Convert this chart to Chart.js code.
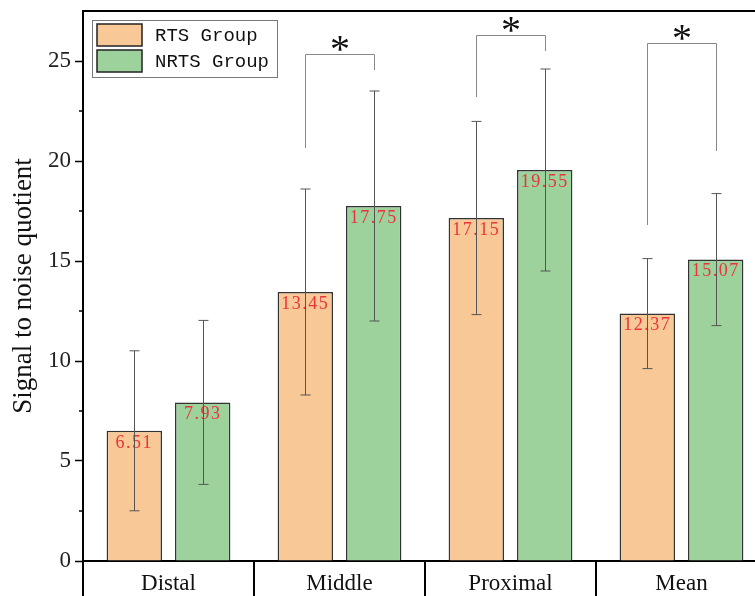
<!DOCTYPE html>
<html>
<head>
<meta charset="utf-8">
<script src="https://cdn.jsdelivr.net/npm/chart.js@4.4.0/dist/chart.umd.min.js"></script>
<style>
body { margin: 0; overflow: hidden; background: #fff; }
#wrap { width: 780px; height: 600px; }
</style>
</head>
<body>
<div id="wrap"><canvas id="myChart"></canvas></div>
<script>
const categories = ['Distal', 'Middle', 'Proximal', 'Mean'];
const rtsValues = [6.51, 13.45, 17.15, 12.37];
const nrtsValues = [7.93, 17.75, 19.55, 15.07];
const rtsSd = [4.0, 5.15, 4.83, 2.75];
const nrtsSd = [4.1, 5.75, 5.05, 3.3];

// significance brackets (category index, bracket top, left leg end, right leg end)
const sigCategories = [1, 2, 3];
const sigTop = [25.35, 26.3, 25.9];
const sigLeftEnd = [20.65, 23.2, 16.8];
const sigRightEnd = [24.55, 25.5, 20.5];

const serif = 'Liberation Serif';
const mono = 'Liberation Mono';

const extras = {
    id: 'extras',
    afterDatasetsDraw(chart) {
        const ctx = chart.ctx;
        const y = chart.scales.y;
        const area = chart.chartArea;
        const sds = [rtsSd, nrtsSd];
        const vals = [rtsValues, nrtsValues];
        ctx.save();

        // value labels
        ctx.fillStyle = '#e8343a';
        ctx.font = '18px "' + serif + '"';
        ctx.letterSpacing = '1.5px';
        ctx.textAlign = 'center';
        ctx.textBaseline = 'top';
        chart.data.datasets.forEach((ds, i) => {
            chart.getDatasetMeta(i).data.forEach((bar, j) => {
                ctx.fillText(vals[i][j].toFixed(2), bar.x, bar.y + 3);
            });
        });
        ctx.letterSpacing = '0px';

        // error bars
        ctx.strokeStyle = '#555';
        ctx.lineWidth = 1;
        chart.data.datasets.forEach((ds, i) => {
            chart.getDatasetMeta(i).data.forEach((bar, j) => {
                const x = Math.round(bar.x) + 0.5;
                const hi = y.getPixelForValue(vals[i][j] + sds[i][j]);
                const lo = y.getPixelForValue(vals[i][j] - sds[i][j]);
                ctx.beginPath();
                ctx.moveTo(x, hi); ctx.lineTo(x, lo);
                ctx.moveTo(x - 5, hi); ctx.lineTo(x + 5, hi);
                ctx.moveTo(x - 5, lo); ctx.lineTo(x + 5, lo);
                ctx.stroke();
            });
        });

        // significance brackets
        const m0 = chart.getDatasetMeta(0).data;
        const m1 = chart.getDatasetMeta(1).data;
        sigCategories.forEach((c, k) => {
            const x1 = Math.round(m0[c].x) + 0.5;
            const x2 = Math.round(m1[c].x) + 0.5;
            const top = Math.round(y.getPixelForValue(sigTop[k])) + 0.5;
            ctx.strokeStyle = '#888';
            ctx.beginPath();
            ctx.moveTo(x1, y.getPixelForValue(sigLeftEnd[k]));
            ctx.lineTo(x1, top);
            ctx.lineTo(x2, top);
            ctx.lineTo(x2, y.getPixelForValue(sigRightEnd[k]));
            ctx.stroke();
            ctx.fillStyle = '#111';
            ctx.font = '40px "' + serif + '"';
            ctx.textBaseline = 'alphabetic';
            ctx.fillText('*', (x1 + x2) / 2, top + 7);
        });

        // top frame line
        ctx.strokeStyle = '#000';
        ctx.lineWidth = 2;
        ctx.beginPath();
        ctx.moveTo(area.left, area.top);
        ctx.lineTo(area.right, area.top);
        ctx.stroke();

        // minor ticks on y
        ctx.lineWidth = 1.5;
        for (let v = 2.5; v < 27.5; v += 5) {
            const py = y.getPixelForValue(v);
            ctx.beginPath();
            ctx.moveTo(area.left - 4, py);
            ctx.lineTo(area.left, py);
            ctx.stroke();
        }

        // legend
        const lx = area.left + 9, ly = area.top + 9;
        ctx.strokeStyle = '#777';
        ctx.lineWidth = 1;
        ctx.strokeRect(lx + 0.5, ly + 0.5, 185, 57);
        ctx.font = '19px "' + mono + '"';
        ctx.textAlign = 'left';
        ctx.textBaseline = 'middle';
        chart.data.datasets.forEach((ds, i) => {
            const sy = ly + 4 + i * 26;
            ctx.fillStyle = ds.backgroundColor;
            ctx.fillRect(lx + 5, sy, 45, 22);
            ctx.strokeStyle = '#222';
            ctx.lineWidth = 1.5;
            ctx.strokeRect(lx + 5, sy, 45, 22);
            ctx.fillStyle = '#111';
            ctx.fillText(ds.label, lx + 63, sy + 12);
        });
        ctx.restore();
    }
};

const data = {
    labels: categories,
    datasets: [{
        label: 'RTS Group',
        data: rtsValues,
        backgroundColor: '#f9c897',
        borderColor: '#333',
        borderWidth: 1.5
    }, {
        label: 'NRTS Group',
        data: nrtsValues,
        backgroundColor: '#9ed29c',
        borderColor: '#333',
        borderWidth: 1.5
    }]
};

const config = {
    type: 'bar',
    data: data,
    options: {
        responsive: true,
        maintainAspectRatio: false,
        animation: false,
        categoryPercentage: 0.8,
        barPercentage: 0.81,
        layout: { padding: { top: 11, right: 13, left: 0, bottom: 0 } },
        plugins: { legend: { display: false }, tooltip: { enabled: false } },
        scales: {
            x: {
                border: { color: '#000', width: 2 },
                grid: { offset: true, drawOnChartArea: false, tickLength: 40, color: '#000', lineWidth: 2 },
                ticks: { padding: -31, color: '#111', font: { family: serif, size: 23 } },
                afterFit: s => { s.height = 39; s.paddingLeft = 0; s.paddingRight = 0; }
            },
            y: {
                min: 0,
                max: 27.5,
                border: { color: '#000', width: 2 },
                grid: {
                    drawOnChartArea: false,
                    tickLength: 8,
                    tickWidth: 1.5,
                    tickColor: c => (c.tick && c.tick.value % 5 === 0) ? '#000' : 'rgba(0,0,0,0)'
                },
                ticks: {
                    stepSize: 5,
                    padding: 4,
                    color: '#222',
                    font: { family: serif, size: 23 },
                    callback: v => (v % 5 === 0 ? v : '')
                },
                title: {
                    display: true,
                    text: 'Signal to noise quotient',
                    color: '#111',
                    font: { family: serif, size: 27 },
                    padding: { top: 8, bottom: 0 }
                },
                afterFit: s => { s.width = 83; s.paddingTop = 0; s.paddingBottom = 0; }
            }
        }
    },
    plugins: [extras]
};

const myChart = new Chart(document.getElementById('myChart'), config);
</script>
</body>
</html>
